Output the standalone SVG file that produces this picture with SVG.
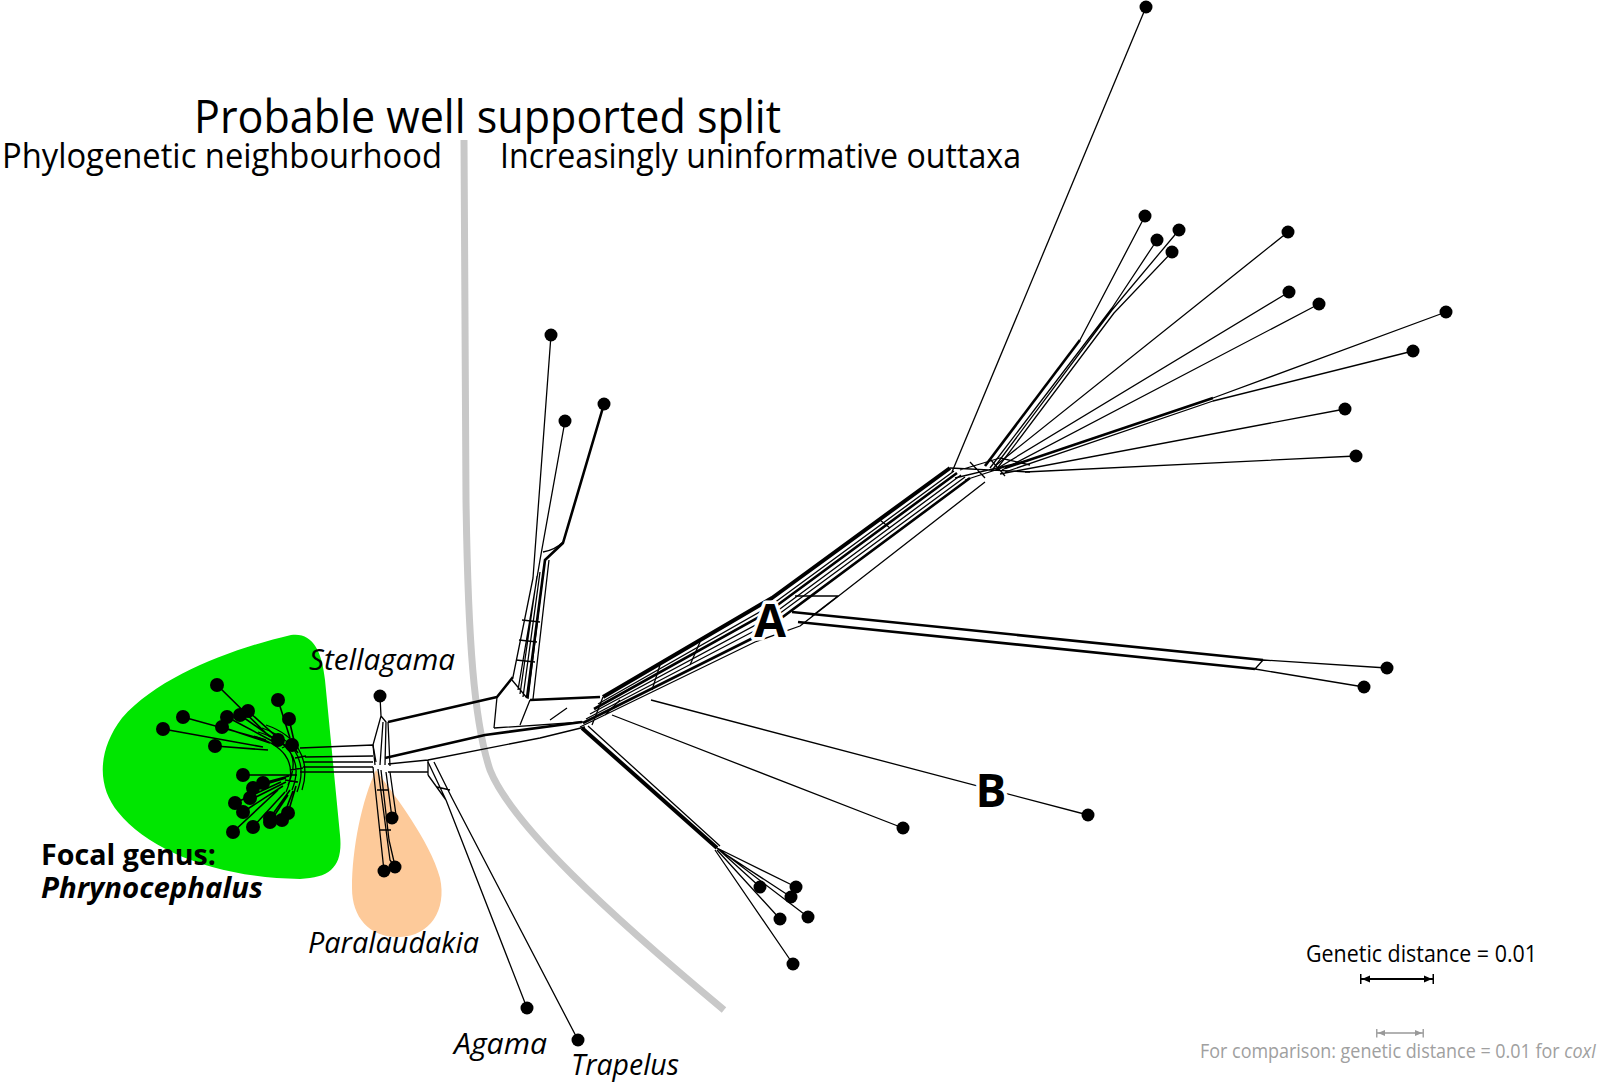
<svg xmlns="http://www.w3.org/2000/svg" width="1600" height="1082" viewBox="0 0 1600 1082">
<style>
.txt{font-family:"Open Sans","Liberation Sans",sans-serif;fill:#000}
.it{font-style:italic}
.e{fill:none;stroke:#000;stroke-width:1.3;stroke-linejoin:round}
.t{fill:none;stroke:#000;stroke-width:2.6;stroke-linejoin:round}
.tt{fill:none;stroke:#000;stroke-width:4;stroke-linejoin:round}
.leaf{fill:#000}
.halo{font-family:"Open Sans","Liberation Sans",sans-serif;font-weight:bold;fill:#000;stroke:#fff;stroke-width:7;paint-order:stroke;stroke-linejoin:round}
</style>
<defs>
<marker id="bk" viewBox="0 0 10 10" refX="9" refY="5" markerWidth="10" markerHeight="10" markerUnits="userSpaceOnUse" orient="auto-start-reverse"><path d="M0,1.5 L8,5 L0,8.5 Z M8.5,0 L10,0 L10,10 L8.5,10 Z" fill="#000"/></marker>
<marker id="gy" viewBox="0 0 10 10" refX="9" refY="5" markerWidth="9" markerHeight="9" markerUnits="userSpaceOnUse" orient="auto-start-reverse"><path d="M0,1.5 L8,5 L0,8.5 Z M8.5,0 L10,0 L10,10 L8.5,10 Z" fill="#999"/></marker>
<circle id="d" r="6.5"/>
<circle id="p" r="7"/>
</defs>
<rect width="1600" height="1082" fill="#fff"/>

<g id="regions">
<path id="green" d="M291,635 C312,632 322,650 325,680 L340,835 C343,865 332,878 300,879 C220,878 150,852 118,812 C98,788 96,752 122,718 C160,675 235,648 291,635 Z" fill="#00e600"/>
<path id="orange" d="M376,770 C392,792 430,840 440,878 C447,910 430,936 400,937 C370,938 352,918 352,888 C352,848 362,800 376,770 Z" fill="#fdca9a"/>
<path id="split" d="M464,140 L466,500 C468,640 474,722 490,770 C512,825 610,915 724,1010" fill="none" stroke="#c8c8c8" stroke-width="7"/>
</g>

<g id="headings" class="txt">
<text x="194" y="133" font-size="45" textLength="587" lengthAdjust="spacingAndGlyphs">Probable well supported split</text>
<text x="2" y="168" font-size="34" textLength="440" lengthAdjust="spacingAndGlyphs">Phylogenetic neighbourhood</text>
<text x="500" y="168" font-size="34" textLength="521" lengthAdjust="spacingAndGlyphs">Increasingly uninformative outtaxa</text>
</g>

<g id="connectors">
<!-- Phrynocephalus fan -->
<path class="e" style="stroke-width:1.6" d="M217,685 L270,737 M278,700 L290,738 M183,717 L266,740 M163,729 L263,747 M227,717 L274,742 M240,715 L277,741 M248,711 L280,740 M289,719 L295,745 M222,727 L270,743 M278,740 L291,750 M292,745 L298,753 M215,746 L268,750"/>
<path class="e" style="stroke-width:1.6" d="M243,775 L297,775 M253,788 L286,778 M263,783 L289,776 M235,803 L281,782 M243,812 L283,786 M270,818 L290,790 M282,820 L293,791 M288,813 L296,786 M233,832 L278,790 M253,827 L285,792 M270,822 L288,795 M250,800 L286,782"/>
<path class="e" d="M258,732 C285,740 305,758 292,790 M262,728 C290,738 310,758 297,792 M266,725 C295,735 312,758 302,790 M270,736 C290,745 300,758 288,785 M254,736 C280,744 300,760 286,792 M275,742 L283,735 M282,748 L292,743 M290,770 L303,768 M285,780 L298,782 M295,758 L306,756"/>
<!-- Phryno to junction -->
<path class="e" d="M300,748 L373,745 L376,762 M303,762 L373,762 M303,767 L373,767 M300,772 L373,772 M305,757 L373,756"/>
<!-- Stellagama -->
<path class="e" d="M380,696 L381,716 L373,745 M381,716 L386,722 L385,765 M383,722 L380,765 M388,722 L390,766 M373,745 L375,765"/>
<path class="t" d="M388,722 L497,697 L513,677"/>
<path class="e" d="M497,697 L494,728"/>
<!-- main lower line to centre -->
<path class="t" d="M385,758 L485,735 L582,722"/>
<path class="e" d="M388,764 L428,760 L540,738 L585,727 M388,772 L428,772 M428,760 L428,775 M494,728 L583,722 M550,720 L567,708 M530,700 L520,725"/>
<!-- Agama / Trapelus -->
<path class="e" d="M428,762 L446,800 L527,1008 M434,762 L452,798 L578,1040 M428,775 L446,800 M437,787 L450,790"/>
<!-- Paralaudakia -->
<path class="e" d="M373,767 L384,871 M378,769 L390,860 L395,867 M381,770 L389,840 L395,866 M386,772 L392,818 M390,772 L396,815 M377,790 L388,790 M379,830 L391,830"/>
<!-- upper branch -->
<path class="e" d="M513,677 L533,578 L551,335 M518,690 L540,560 L565,421 M523,697 L540,572 M533,699 L549,560 M512,680 L527,698 M528,699 L544,566 M520,694 L537,576"/>
<path class="t" d="M527,698 L545,560 L563,543 L604,404"/>
<path class="e" d="M543,552 Q555,550 563,542 M516,660 L535,662 M522,620 L540,622 M519,640 L537,642"/>
<path class="t" d="M530,700 L600,697"/>
<!-- A band -->
<path class="tt" d="M603,697 L772,598 L950,468"/>
<path class="e" d="M598,704 L770,606 L954,471"/>
<path class="t" d="M594,709 L768,612 L957,473"/>
<path class="e" d="M590,714 L765,620 L961,475 M586,719 L760,628 L965,477"/>
<path class="t" d="M583,723 L757,636 L970,478"/>
<path class="e" d="M580,727 L755,642 L800,626 L985,482 M603,697 L592,725 M660,665 L652,690 M620,700 L605,715 M700,642 L690,665 M880,520 L890,528"/>
<!-- A side branch -->
<path class="t" d="M792,612 L1263,660"/>
<path class="e" d="M1263,660 L1387,668 M1255,669 L1364,687 M1255,669 L1263,660 M795,596 L838,596 L812,616"/>
<path class="t" d="M798,622 L1255,669"/>
<!-- B and 16 -->
<path class="e" d="M612,715 L903,828 M651,700 L1088,815"/>
<!-- lower cluster -->
<path class="tt" d="M582,728 L717,848"/>
<path class="e" d="M588,726 L720,846 M717,848 L796,887 M719,850 L791,897 M717,848 L760,887 M720,850 L808,917 M717,850 L780,919 M715,850 L793,964"/>
<!-- top fan -->
<path class="e" d="M952,472 L1146,7"/>
<path class="t" d="M985,466 L1080,340"/>
<path class="e" d="M1080,340 L1145,216 M990,468 L1112,308 L1157,240 M993,469 L1112,310 L1179,230 M996,470 L1114,313 L1172,252"/>
<path class="e" d="M995,466 L1288,232 M998,468 L1289,292 M1002,470 L1319,304"/>
<path class="t" d="M1005,468 L1213,398"/>
<path class="e" d="M1213,398 L1446,312 M1005,472 L1213,401 L1413,351 M1000,474 L1345,409 M1025,472 L1356,456"/>
<path class="e" d="M950,468 L1030,472 M955,478 L1030,460 M960,470 L1000,458 L1030,465 M965,480 L1020,462 M970,462 L985,478 M990,459 L1005,476"/>
</g>

<g id="leaves" class="leaf">
<g id="n1"><use href="#d" x="1146" y="7"/></g>
<g id="n2"><use href="#d" x="1145" y="216"/></g>
<g id="n3"><use href="#d" x="1157" y="240"/></g>
<g id="n4"><use href="#d" x="1179" y="230"/></g>
<g id="n5"><use href="#d" x="1172" y="252"/></g>
<g id="n6"><use href="#d" x="1288" y="232"/></g>
<g id="n7"><use href="#d" x="1289" y="292"/></g>
<g id="n8"><use href="#d" x="1319" y="304"/></g>
<g id="n9"><use href="#d" x="1446" y="312"/></g>
<g id="n10"><use href="#d" x="1413" y="351"/></g>
<g id="n11"><use href="#d" x="1345" y="409"/></g>
<g id="n12"><use href="#d" x="1356" y="456"/></g>
<g id="n13"><use href="#d" x="1387" y="668"/></g>
<g id="n14"><use href="#d" x="1364" y="687"/></g>
<g id="n15"><use href="#d" x="1088" y="815"/></g>
<g id="n16"><use href="#d" x="903" y="828"/></g>
<g id="n17"><use href="#d" x="796" y="887"/></g>
<g id="n18"><use href="#d" x="791" y="897"/></g>
<g id="n19"><use href="#d" x="760" y="887"/></g>
<g id="n20"><use href="#d" x="808" y="917"/></g>
<g id="n21"><use href="#d" x="780" y="919"/></g>
<g id="n22"><use href="#d" x="793" y="964"/></g>
<g id="n23"><use href="#d" x="551" y="335"/></g>
<g id="n24"><use href="#d" x="565" y="421"/></g>
<g id="n25"><use href="#d" x="604" y="404"/></g>
<g id="stellagama"><use href="#d" x="380" y="696"/></g>
<g id="para1"><use href="#d" x="392" y="818"/></g>
<g id="para2"><use href="#d" x="384" y="871"/></g>
<g id="para3"><use href="#d" x="395" y="867"/></g>
<g id="agama"><use href="#d" x="527" y="1008"/></g>
<g id="trapelus"><use href="#d" x="578" y="1040"/></g>
<g id="phryno">
<use href="#p" x="217" y="685"/><use href="#p" x="278" y="700"/><use href="#p" x="183" y="717"/><use href="#p" x="227" y="717"/>
<use href="#p" x="240" y="715"/><use href="#p" x="248" y="711"/><use href="#p" x="289" y="719"/><use href="#p" x="163" y="729"/>
<use href="#p" x="222" y="727"/><use href="#p" x="278" y="740"/><use href="#p" x="292" y="745"/><use href="#p" x="215" y="746"/>
<use href="#p" x="243" y="775"/><use href="#p" x="253" y="788"/><use href="#p" x="263" y="783"/><use href="#p" x="235" y="803"/>
<use href="#p" x="243" y="812"/><use href="#p" x="270" y="818"/><use href="#p" x="282" y="820"/><use href="#p" x="288" y="813"/>
<use href="#p" x="233" y="832"/><use href="#p" x="253" y="827"/><use href="#p" x="270" y="822"/><use href="#p" x="250" y="798"/>
</g>
</g>

<g id="labels" class="txt">
<text class="it" x="309" y="670" font-size="29" textLength="146" lengthAdjust="spacingAndGlyphs">Stellagama</text>
<text class="it" x="308" y="953" font-size="29" textLength="171" lengthAdjust="spacingAndGlyphs">Paralaudakia</text>
<text class="it" x="454" y="1054" font-size="29" textLength="93" lengthAdjust="spacingAndGlyphs">Agama</text>
<text class="it" x="571" y="1075" font-size="29" textLength="108" lengthAdjust="spacingAndGlyphs">Trapelus</text>
<text x="41" y="865" font-size="29" font-weight="bold" textLength="175" lengthAdjust="spacingAndGlyphs">Focal genus:</text>
<text class="it" x="41" y="898" font-size="29" font-weight="bold" textLength="222" lengthAdjust="spacingAndGlyphs">Phrynocephalus</text>
<text class="halo" x="770" y="637" font-size="46" text-anchor="middle">A</text>
<text class="halo" x="991" y="807" font-size="46" text-anchor="middle">B</text>
</g>

<g id="scale">
<text class="txt" x="1306" y="962" font-size="23" textLength="231" lengthAdjust="spacingAndGlyphs">Genetic distance = 0.01</text>
<path d="M1361,979 L1433,979" stroke="#000" stroke-width="1.8" marker-start="url(#bk)" marker-end="url(#bk)"/>
<path d="M1377,1033 L1423,1033" stroke="#999" stroke-width="1.6" marker-start="url(#gy)" marker-end="url(#gy)"/>
<text class="txt" x="1200" y="1058" font-size="20" style="fill:#a0a0a0" textLength="396" lengthAdjust="spacingAndGlyphs">For comparison: genetic distance = 0.01 for <tspan font-style="italic">coxI</tspan></text>
</g>
</svg>
